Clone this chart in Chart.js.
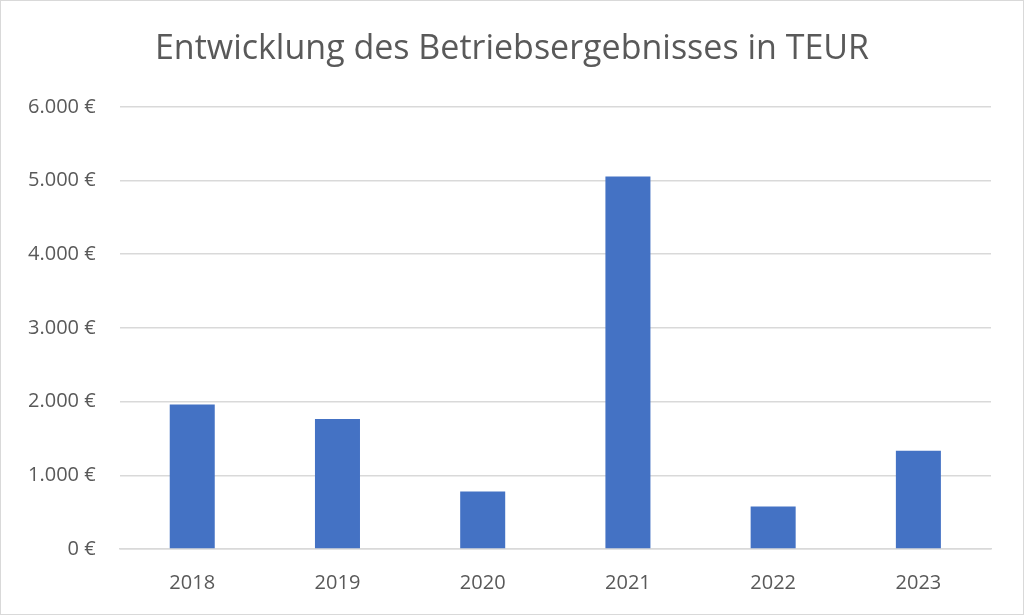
<!DOCTYPE html>
<html>
<head>
<meta charset="utf-8">
<script src="https://cdn.jsdelivr.net/npm/chart.js@4.4.0/dist/chart.umd.min.js"></script>
<style>
  html, body { margin: 0; padding: 0; background: #fff; }
  #wrap { position: relative; width: 1022px; height: 613px; border: 1px solid #d9d9d9; }
</style>
</head>
<body>
<div id="wrap"><canvas id="barChart" width="1022" height="613"></canvas></div>
<script>
// chart data
const years = ['2018', '2019', '2020', '2021', '2022', '2023'];
const ergebnis = [1960, 1765, 780, 5055, 575, 1333];
const yTicks = [0, 1000, 2000, 3000, 4000, 5000, 6000];

function euro(v) {
  let s = String(Math.round(v)).replace(/\B(?=(\d{3})+(?!\d))/g, '.');
  return s + ' €';
}

const ctx = document.getElementById('barChart').getContext('2d');
const barChart = new Chart(ctx, {
  type: 'bar',
  data: {
    labels: years,
    datasets: [{
      data: ergebnis,
      backgroundColor: '#4472c4',
      borderWidth: 0,
      categoryPercentage: 1.0,
      barPercentage: 0.31
    }]
  },
  options: {
    responsive: false,
    animation: false,
    layout: { padding: { left: 3, right: 3, top: 28, bottom: 5 } },
    plugins: {
      legend: { display: false },
      tooltip: { enabled: false },
      title: {
        display: true,
        text: 'Entwicklung des Betriebsergebnisses in TEUR',
        color: '#595959',
        font: { family: 'Open Sans', size: 34, weight: 'normal' },
        padding: { top: 0, bottom: 37 }
      }
    },
    scales: {
      x: {
        grid: { display: false },
        border: { color: '#d9d9d9', width: 1.5 },
        ticks: { color: '#595959', font: { family: 'Open Sans', size: 20 }, padding: 14 }
      },
      y: {
        min: 0,
        max: 6000,
        afterBuildTicks: function(axis) {
          axis.ticks = yTicks.map(v => ({ value: v }));
        },
        grid: { color: '#d9d9d9', lineWidth: 1.5, drawTicks: false },
        border: { display: false },
        ticks: {
          color: '#595959',
          font: { family: 'Open Sans', size: 20 },
          padding: 24,
          callback: function(v) { return euro(v); }
        }
      },
      // empty right side spacer so the title stays centred on the page
      spacer: {
        position: 'right',
        axis: 'y',
        display: true,
        grid: { display: false },
        border: { display: false },
        ticks: { display: false },
        afterFit: function(axis) { axis.width = 29; }
      }
    }
  }
});
</script>
</body>
</html>
